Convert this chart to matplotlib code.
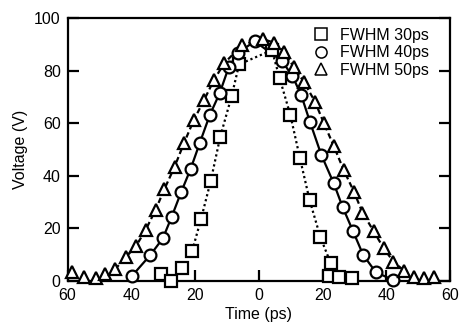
import matplotlib
matplotlib.use('Agg')
import matplotlib.pyplot as plt
from matplotlib.lines import Line2D
from matplotlib.ticker import FuncFormatter

plt.rcParams['font.family'] = ['Liberation Sans', 'DejaVu Sans']
plt.rcParams['font.size'] = 11.5

# FWHM 30ps (squares)
sq_time = [-30.8, -27.6, -24.0, -20.9, -18.1, -15.1, -12.1, -8.5, -6.2, 4.1, 6.5,
           9.9, 12.9, 15.9, 19.3, 22.5, 21.9, 25.0, 29.1]
sq_volt = [2.7, 0.0, 5.0, 11.5, 23.7, 38.0, 54.9, 70.5, 82.4, 87.8, 77.2,
           63.0, 46.6, 30.8, 16.6, 6.8, 1.9, 1.4, 1.0]

# FWHM 40ps (circles)
ci_time = [-39.7, -34.0, -30.1, -27.4, -24.4, -21.4, -18.5, -15.4, -12.3, -9.4, -6.5,
           -1.3, 7.3, 10.5, 13.3, 16.0, 19.6, 23.5, 26.3, 29.5, 32.7, 36.6, 42.2]
ci_volt = [2.0, 9.9, 16.2, 24.2, 33.7, 42.6, 52.6, 63.1, 71.4, 81.5, 86.8,
           91.2, 83.6, 78.0, 70.7, 60.6, 47.9, 37.1, 28.0, 19.0, 9.9, 3.4, 0.2]

# FWHM 50ps (triangles)
tr_time = [-58.5, -54.9, -51.2, -48.3, -45.1, -41.8, -38.5, -35.5, -32.4, -29.6, -26.4,
           -23.5, -20.4, -17.2, -14.1, -10.9, -5.2, 1.3, 4.7, 7.9, 10.9, 14.1,
           17.6, 20.4, 23.5, 26.6, 29.8, 32.5, 36.0, 39.1, 42.2, 45.5, 48.8, 51.7, 55.0]
tr_volt = [3.5, 1.3, 1.0, 2.5, 4.4, 8.9, 13.3, 19.4, 27.0, 35.0, 43.5,
           52.4, 61.2, 68.8, 76.4, 82.8, 89.8, 92.0, 90.7, 87.2, 81.5, 75.8,
           68.2, 60.0, 51.3, 42.2, 34.0, 26.0, 18.9, 12.5, 7.3, 3.9, 1.3, 1.0, 1.3]

labels = ['FWHM 30ps', 'FWHM 40ps', 'FWHM 50ps']

fig = plt.figure(figsize=(4.66, 3.30), dpi=100)
ax = fig.add_axes([0.145, 0.149, 0.821, 0.796])

lw = 1.6
mk = dict(color='black', markerfacecolor='white', markeredgecolor='black',
          markeredgewidth=1.6, clip_on=False, linestyle='none', zorder=3)

# fitted lines drawn through the inner points only
ax.plot(sq_time[3:16], sq_volt[3:16], color='black', lw=lw, linestyle=(0, (1, 1.3)), zorder=2)
ax.plot(ci_time, ci_volt, color='black', lw=lw, linestyle='-', zorder=2)
ax.plot(tr_time[4:32], tr_volt[4:32], color='black', lw=lw, linestyle=(0, (2.5, 1.5)), zorder=2)

ax.plot(sq_time, sq_volt, marker='s', markersize=8, **mk)
ax.plot(ci_time, ci_volt, marker='o', markersize=8.5, **mk)
ax.plot(tr_time, tr_volt, marker='^', markersize=9, **mk)

ax.set_xlim(-60, 60)
ax.set_ylim(0, 100)
ax.set_xticks([-60, -40, -20, 0, 20, 40, 60])
ax.set_yticks([0, 20, 40, 60, 80, 100])
ax.xaxis.set_major_formatter(FuncFormatter(lambda v, p: '%d' % abs(v)))
ax.tick_params(direction='in', length=8, width=1.6, left=True, right=True,
               bottom=True, top=False, pad=5, labelsize=11.5)
for s in ax.spines.values():
    s.set_linewidth(1.6)

ax.set_xlabel('Time (ps)', fontsize=11.5, labelpad=3)
ax.set_ylabel('Voltage (V)', fontsize=11.5, labelpad=4)

handles = [Line2D([], [], marker=m, linestyle='none', color='black', markerfacecolor='white',
                  markeredgewidth=1.1, markersize=s) for m, s in [('s', 8), ('o', 8), ('^', 8)]]
ax.legend(handles, labels, loc='upper right', frameon=False, fontsize=11.5,
          handletextpad=0.7, labelspacing=0.15, borderpad=0.1, handlelength=1.0,
          bbox_to_anchor=(0.97, 1.0))

fig.savefig('out.png', dpi=100)
